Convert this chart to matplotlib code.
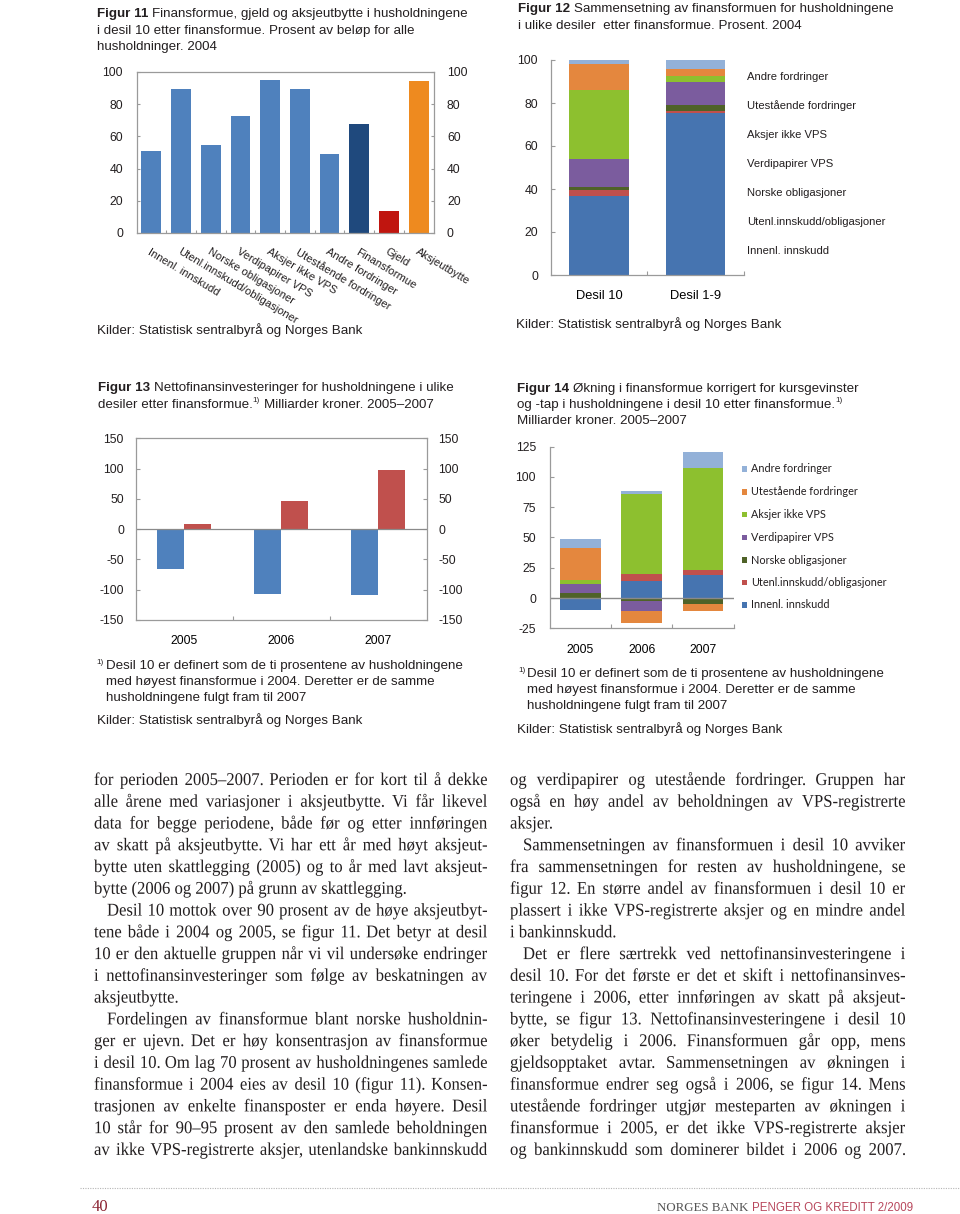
import matplotlib
matplotlib.use("Agg")
import matplotlib.pyplot as plt
from matplotlib.patches import Rectangle, PathPatch
from matplotlib.textpath import TextPath
from matplotlib.font_manager import FontProperties
from matplotlib.transforms import Affine2D
import numpy as np

plt.rcParams["font.family"] = ["Liberation Sans", "DejaVu Sans"]
plt.rcParams["axes.unicode_minus"] = False

# ---------------- data ----------------
fig11_labels = ["Innenl. innskudd", "Utenl.innskudd/obligasjoner", "Norske obligasjoner",
                "Verdipapirer VPS", "Aksjer ikke VPS", "Utestående fordringer",
                "Andre fordringer", "Finansformue", "Gjeld", "Aksjeutbytte"]
fig11_values = [50.9, 89.7, 54.6, 72.6, 95.3, 89.3, 49.1, 68.0, 13.8, 94.2]
fig11_colors = ["#4f81bd"] * 7 + ["#1f497d", "#c0150f", "#ee8a1f"]

components = ["Innenl. innskudd", "Utenl.innskudd/obligasjoner", "Norske obligasjoner",
              "Verdipapirer VPS", "Aksjer ikke VPS", "Utestående fordringer", "Andre fordringer"]
comp_colors = ["#4674b0", "#c0504d", "#4f6228", "#7b5c9e", "#8dc02f", "#e4873e", "#93b1d8"]

fig12_groups = ["Desil 10", "Desil 1-9"]
fig12_desil10 = [36.9, 2.6, 1.6, 12.9, 32.0, 12.1, 1.9]
fig12_desil1_9 = [75.5, 0.9, 2.7, 10.5, 3.1, 3.1, 4.2]

years = ["2005", "2006", "2007"]
fig13_desil1_9 = [-65.4, -107.1, -108.8]
fig13_desil10 = [8.2, 47.3, 98.4]

fig14_innenl = [-10.2, 14.3, 19.2]
fig14_utenl = [0.0, 5.5, 3.6]
fig14_norske = [3.8, -2.2, -4.9]
fig14_verdi = [8.0, -8.5, 0.0]
fig14_aksjer = [3.3, 65.9, 84.6]
fig14_utest = [26.1, -9.9, -5.8]
fig14_andre = [7.4, 2.8, 13.5]
fig14_values = [fig14_innenl, fig14_utenl, fig14_norske, fig14_verdi,
                fig14_aksjer, fig14_utest, fig14_andre]

# ">" = paragraph indent, "|" = last line of a paragraph (not justified)
left_text = [
    "for perioden 2005–2007. Perioden er for kort til å dekke",
    "alle årene med variasjoner i aksjeutbytte. Vi får likevel",
    "data for begge periodene, både før og etter innføringen",
    "av skatt på aksjeutbytte. Vi har ett år med høyt aksjeut-",
    "bytte uten skattlegging (2005) og to år med lavt aksjeut-",
    "bytte (2006 og 2007) på grunn av skattlegging.|",
    ">Desil 10 mottok over 90 prosent av de høye aksjeutbyt-",
    "tene både i 2004 og 2005, se figur 11. Det betyr at desil",
    "10 er den aktuelle gruppen når vi vil undersøke endringer",
    "i nettofinansinvesteringer som følge av beskatningen av",
    "aksjeutbytte.|",
    ">Fordelingen av finansformue blant norske husholdnin-",
    "ger er ujevn. Det er høy konsentrasjon av finansformue",
    "i desil 10. Om lag 70 prosent av husholdningenes samlede",
    "finansformue i 2004 eies av desil 10 (figur 11). Konsen-",
    "trasjonen av enkelte finansposter er enda høyere. Desil",
    "10 står for 90–95 prosent av den samlede beholdningen",
    "av ikke VPS-registrerte aksjer, utenlandske bankinnskudd",
]
right_text = [
    "og verdipapirer og utestående fordringer. Gruppen har",
    "også en høy andel av beholdningen av VPS-registrerte",
    "aksjer.|",
    ">Sammensetningen av finansformuen i desil 10 avviker",
    "fra sammensetningen for resten av husholdningene, se",
    "figur 12. En større andel av finansformuen i desil 10 er",
    "plassert i ikke VPS-registrerte aksjer og en mindre andel",
    "i bankinnskudd.|",
    ">Det er flere særtrekk ved nettofinansinvesteringene i",
    "desil 10. For det første er det et skift i nettofinansinves-",
    "teringene i 2006, etter innføringen av skatt på aksjeut-",
    "bytte, se figur 13. Nettofinansinvesteringene i desil 10",
    "øker betydelig i 2006. Finansformuen går opp, mens",
    "gjeldsopptaket avtar. Sammensetningen av økningen i",
    "finansformue endrer seg også i 2006, se figur 14. Mens",
    "utestående fordringer utgjør mesteparten av økningen i",
    "finansformue i 2005, er det ikke VPS-registrerte aksjer",
    "og bankinnskudd som dominerer bildet i 2006 og 2007.",
]

# ---------------- page setup ----------------
W, H = 960, 1214
fig = plt.figure(figsize=(W / 100, H / 100), dpi=100)
page = fig.add_axes([0, 0, 1, 1], zorder=-1)
page.set_xlim(0, W)
page.set_ylim(H, 0)
page.axis("off")
rend = fig.canvas.get_renderer()

SANS, SERIF = "Liberation Sans", "Liberation Serif"
INK = "#231f20"
LINE = "#9a9a9a"
CAP = 9.6   # caption size
TICK = 8.8
serif_fp = FontProperties(family=SERIF)


def px_axes(l, t, r, b):
    return fig.add_axes([l / W, 1 - b / H, (r - l) / W, (b - t) / H])


def runs(x, y, parts, size=CAP):
    for txt, kind in parts:
        if txt.startswith(" "):
            x += 0.278 * size * 100 / 72
            txt = txt.lstrip()
        fs = size * 0.6 if kind == "sup" else size
        dy = -size * 0.6 if kind == "sup" else 0
        t = page.text(x, y + dy, txt, fontsize=fs, family=SANS, color=INK,
                      weight="bold" if kind == "b" else "normal", va="baseline", ha="left")
        x += t.get_window_extent(rend).width
    return x


def sans_line(x, y, txt, first=None, size=CAP):
    parts = []
    if first:
        parts.append((first, "b"))
        txt = " " + txt
    for i, piece in enumerate(txt.split("{1}")):
        if i:
            parts.append(("1)", "sup"))
        if piece:
            parts.append((piece, "n"))
    runs(x, y, parts, size)


def caption(x, y0, num, lines, step=16.3):
    for i, ln in enumerate(lines):
        sans_line(x, y0 + i * step, ln, first=f"Figur {num}" if i == 0 else None)


def footnote(x, y0, xt):
    runs(x, y0, [("1)", "sup")])
    notes = ["Desil 10 er definert som de ti prosentene av husholdningene",
             "med høyest finansformue i 2004. Deretter er de samme",
             "husholdningene fulgt fram til 2007"]
    for i, ln in enumerate(notes):
        sans_line(xt, y0 + i * 16, ln)


SX = 0.93   # the page's Times is narrower than Liberation Serif


def put_path(tp, x, y):
    tr = Affine2D().scale(SX, -1).translate(x, y) + page.transData
    page.add_patch(PathPatch(tp, transform=tr, facecolor=INK, edgecolor="none", lw=0))


def body(x0, x1, y0, lines, size=12.9, step=21.76):
    spx = size * 100 / 72
    for i, raw in enumerate(lines):
        y = y0 + i * step
        x = x0
        if raw.startswith(">"):
            raw = raw[1:]
            x += 13
        if raw.endswith("|"):
            put_path(TextPath((0, 0), raw[:-1], size=spx, prop=serif_fp), x, y)
            continue
        paths = [TextPath((0, 0), w, size=spx, prop=serif_fp) for w in raw.split()]
        ws = [p.get_extents().x1 * SX for p in paths]
        gap = max((x1 - x - sum(ws)) / (len(paths) - 1), 2.0)
        for p, w in zip(paths, ws):
            put_path(p, x, y)
            x += w + gap


def style(ax, spines):
    for s in ax.spines:
        ax.spines[s].set_visible(s in spines)
        ax.spines[s].set_color(LINE)
        ax.spines[s].set_linewidth(0.9)
    ax.tick_params(colors=LINE, labelcolor=INK, labelsize=TICK, width=0.8)


def square_legend(x, xt, ys, size, font=SANS, fs=8.1):
    for k, comp in enumerate(reversed(components)):
        col = comp_colors[len(components) - 1 - k]
        page.add_patch(Rectangle((x - size / 2, ys[k] - size / 2), size, size, color=col, lw=0))
        page.text(xt, ys[k], comp, fontsize=fs, family=font, color=INK, va="center", ha="left")


# ---------------- Figur 11 ----------------
caption(97, 17.5, 11, ["Finansformue, gjeld og aksjeutbytte i husholdningene",
                       "i desil 10 etter finansformue. Prosent av beløp for alle",
                       "husholdninger. 2004"])
ax1 = px_axes(136.5, 72, 433.5, 233)
x11 = np.arange(len(fig11_values))
ax1.bar(x11, fig11_values, width=0.67, color=fig11_colors)
ax1.set_xlim(-0.5, 9.5)
ax1.set_ylim(0, 100)
ax1.set_yticks(range(0, 101, 20))
style(ax1, ("left", "right", "top", "bottom"))
ax1.tick_params(axis="y", left=True, right=True, labelleft=True, labelright=True,
                direction="in", length=2, pad=9.7)
ax1.set_xticks(np.arange(0.5, 9.0, 1.0))
ax1.set_xticklabels([])
ax1.tick_params(axis="x", direction="in", length=2.5)
for i, lab in enumerate(fig11_labels):
    ax1.text(i, -0.085, lab, transform=ax1.get_xaxis_transform(), rotation=-31,
             rotation_mode="anchor", ha="left", va="top", fontsize=8.0, color=INK)
page.text(97, 334, "Kilder: Statistisk sentralbyrå og Norges Bank", fontsize=CAP,
          color=INK, va="baseline")

# ---------------- Figur 12 ----------------
caption(518, 12.3, 12, ["Sammensetning av finansformuen for husholdningene",
                        "i ulike desiler  etter finansformue. Prosent. 2004"])
ax2 = px_axes(551, 60, 743.6, 275)
bottom = np.zeros(2)
for j, comp in enumerate(components):
    vals = np.array([fig12_desil10[j], fig12_desil1_9[j]])
    ax2.bar([0, 1], vals, width=0.62, bottom=bottom, color=comp_colors[j])
    bottom += vals
ax2.set_xlim(-0.5, 1.5)
ax2.set_ylim(0, 100)
ax2.set_yticks(range(0, 101, 20))
style(ax2, ("left", "bottom"))
ax2.tick_params(axis="y", direction="in", length=3, pad=9.4)
ax2.set_xticks([0.5, 1.5])
ax2.set_xticklabels([])
ax2.tick_params(axis="x", direction="in", length=3)
ax2.set_xticks([0, 1], labels=fig12_groups, minor=True)
ax2.tick_params(axis="x", which="minor", length=0, pad=10.5, labelsize=9.3)
square_legend(740.5, 747.3, [77, 106, 135, 164, 193, 222, 251], 5.7)
page.text(515.7, 328, "Kilder: Statistisk sentralbyrå og Norges Bank", fontsize=CAP,
          color=INK, va="baseline")

# ---------------- Figur 13 ----------------
caption(98, 391.3, 13, ["Nettofinansinvesteringer for husholdningene i ulike",
                        "desiler etter finansformue.{1} Milliarder kroner. 2005–2007"])
ax3 = px_axes(135.7, 438.3, 426.7, 620)
x13 = np.arange(len(years))
ax3.bar(x13 - 0.14, fig13_desil1_9, width=0.28, color="#4f81bd")
ax3.bar(x13 + 0.14, fig13_desil10, width=0.28, color="#c0504d")
ax3.axhline(0, color="#8a8a8a", lw=0.9)
ax3.set_xlim(-0.5, 2.5)
ax3.set_ylim(-150, 150)
ax3.set_yticks(range(-150, 151, 50))
style(ax3, ("left", "right", "top", "bottom"))
ax3.tick_params(axis="y", left=True, right=True, labelleft=True, labelright=True,
                direction="in", length=3, pad=8.5)
ax3.set_xticks([0.5, 1.5])
ax3.set_xticklabels([])
ax3.tick_params(axis="x", direction="in", length=3)
ax3.set_xticks(x13, labels=years, minor=True)
ax3.tick_params(axis="x", which="minor", length=0, pad=11, labelsize=TICK)
for yy, name, col in [(462.3, "Desil 1-9", "#4f81bd"), (487.3, "Desil 10", "#c0504d")]:
    page.add_patch(Rectangle((173.3, yy - 3), 6, 6, color=col, lw=0))
    page.text(182.7, yy, name, fontsize=8.3, color=INK, va="center")
footnote(96.7, 669.3, 106)
page.text(97, 724, "Kilder: Statistisk sentralbyrå og Norges Bank", fontsize=CAP,
          color=INK, va="baseline")

# ---------------- Figur 14 ----------------
caption(517.3, 391.7, 14, ["Økning i finansformue korrigert for kursgevinster",
                           "og -tap i husholdningene i desil 10 etter finansformue.{1}",
                           "Milliarder kroner. 2005–2007"])
ax4 = px_axes(549.7, 446.7, 733.7, 628.3)
x14 = np.arange(len(years))
pos = np.zeros(3)
neg = np.zeros(3)
for j, vals in enumerate(fig14_values):
    v = np.array(vals)
    base = np.where(v >= 0, pos, neg)
    ax4.bar(x14, v, width=0.66, bottom=base, color=comp_colors[j])
    pos += np.clip(v, 0, None)
    neg += np.clip(v, None, 0)
ax4.axhline(0, color="#8a8a8a", lw=1.0)
ax4.set_xlim(-0.5, 2.5)
ax4.set_ylim(-25, 125)
ax4.set_yticks(range(-25, 126, 25))
style(ax4, ("left", "bottom"))
ax4.tick_params(axis="y", direction="in", length=3, pad=9.9)
ax4.set_xticks([0.5, 1.5, 2.5])
ax4.set_xticklabels([])
ax4.tick_params(axis="x", direction="in", length=3)
ax4.set_xticks(x14, labels=years, minor=True)
ax4.tick_params(axis="x", which="minor", length=0, pad=11, labelsize=TICK)
square_legend(744.5, 750.7, [469, 491.7, 514.3, 537.3, 560, 582.3, 605], 5.6,
              font="Lato", fs=7.8)
footnote(518.3, 677.3, 527.3)
page.text(517.3, 733.3, "Kilder: Statistisk sentralbyrå og Norges Bank", fontsize=CAP,
          color=INK, va="baseline")

# ---------------- body text ----------------
body(94, 487, 785, left_text)
body(510, 905, 785, right_text)

# ---------------- footer ----------------
page.plot([80, 960], [1188, 1188], ls=(0, (1, 1.2)), color="#b5b5b5", lw=0.8)
page.text(92, 1211, "40", family=SERIF, fontsize=12, color="#8b2332", va="baseline")
page.text(657, 1211, "NORGES BANK", family=SERIF, fontsize=9.3, color="#555555", va="baseline")
page.text(752, 1211, "PENGER OG KREDITT 2/2009", family=SANS, fontsize=8.3,
          color="#b8475c", va="baseline")

fig.savefig("out.png", dpi=100)
